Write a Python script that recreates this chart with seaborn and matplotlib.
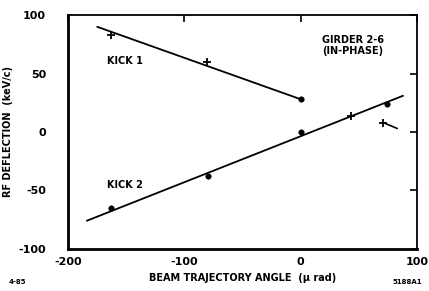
import matplotlib
matplotlib.use("Agg")
import matplotlib.pyplot as plt
import numpy as np
import pandas as pd
import seaborn as sns

# fitted lines (end points)
kick1_fit_x = [-175, 0]
kick1_fit_y = [90, 28]
kick2_fit_x = [-184, 88]
kick2_fit_y = [-76, 31]

# measured points
kick1_x = [-163, -81, 0]
kick1_y = [83, 60, 28]
kick2_x = [-163, -80, 0, 43, 74]
kick2_y = [-65, -38, 0, 14, 24]
stray_x = [71, 83]
stray_y = [8, 3]

x_ticks = [-200, -100, 0, 100]
x_labels = ["-200", "-100", "0", "100"]
y_ticks = [100, 50, 0, -50, -100]
y_labels = ["100", "50", "0", "-50", "-100"]

sns.set_style("white")
plt.rcParams["font.family"] = ["DejaVu Sans"]
plt.rcParams["font.weight"] = "bold"
plt.rcParams["text.color"] = "black"
plt.rcParams["axes.labelcolor"] = "black"
plt.rcParams["xtick.color"] = "black"
plt.rcParams["ytick.color"] = "black"

fig = plt.figure(figsize=(4.29, 2.91), dpi=100)
ax = fig.add_axes([0.159, 0.145, 0.813, 0.803])

fits = pd.DataFrame({
    "x": kick1_fit_x + kick2_fit_x,
    "y": kick1_fit_y + kick2_fit_y,
    "kick": ["1"] * 2 + ["2"] * 2,
})
sns.lineplot(data=fits, x="x", y="y", units="kick", estimator=None,
             color="black", linewidth=1.3, ax=ax, legend=False)

dots = pd.DataFrame({"x": [kick1_x[2]] + kick2_x[:3] + [kick2_x[4]],
                     "y": [kick1_y[2]] + kick2_y[:3] + [kick2_y[4]]})
sns.scatterplot(data=dots, x="x", y="y", color="black", s=16,
                marker="o", edgecolor="black", ax=ax, legend=False)
plus = pd.DataFrame({"x": kick1_x[:2] + [kick2_x[3], stray_x[0]],
                     "y": kick1_y[:2] + [kick2_y[3], stray_y[0]]})
sns.scatterplot(data=plus, x="x", y="y", color="black", s=30,
                marker="+", linewidth=1.3, ax=ax, legend=False)
sns.lineplot(x=stray_x, y=stray_y, color="black", linewidth=1.2, ax=ax)

ax.set_xlim(-200, 100)
ax.set_ylim(-100, 100)
ax.set_xticks(x_ticks)
ax.set_xticklabels(x_labels)
ax.set_yticks(y_ticks)
ax.set_yticklabels(y_labels)
ax.tick_params(direction="in", length=5, width=1.2, labelsize=8,
               top=True, right=True, labelcolor="black")
ax.tick_params(axis="x", pad=6)
ax.tick_params(axis="y", pad=16)
for side in ["left", "bottom"]:
    ax.spines[side].set_linewidth(2.0)
for side in ["top", "right"]:
    ax.spines[side].set_linewidth(1.3)
for side in ax.spines:
    ax.spines[side].set_color("black")

ax.set_xlabel("BEAM TRAJECTORY ANGLE  (\u03bc rad)", fontsize=7, fontweight="bold", labelpad=4)
ax.set_ylabel("RF DEFLECTION  (keV/c)", fontsize=7, fontweight="bold", labelpad=4)

ax.text(-167, 61, "KICK 1", fontsize=7, fontweight="bold", va="center")
ax.text(-167, -45, "KICK 2", fontsize=7, fontweight="bold", va="center")
ax.text(45, 74, "GIRDER 2-6\n(IN-PHASE)", fontsize=7, fontweight="bold",
        ha="center", va="center", linespacing=1.1)

fig.text(0.02, 0.025, "4-85", fontsize=5, fontweight="bold")
fig.text(0.985, 0.025, "5188A1", fontsize=5, fontweight="bold", ha="right")

fig.savefig("out.png", dpi=100)
